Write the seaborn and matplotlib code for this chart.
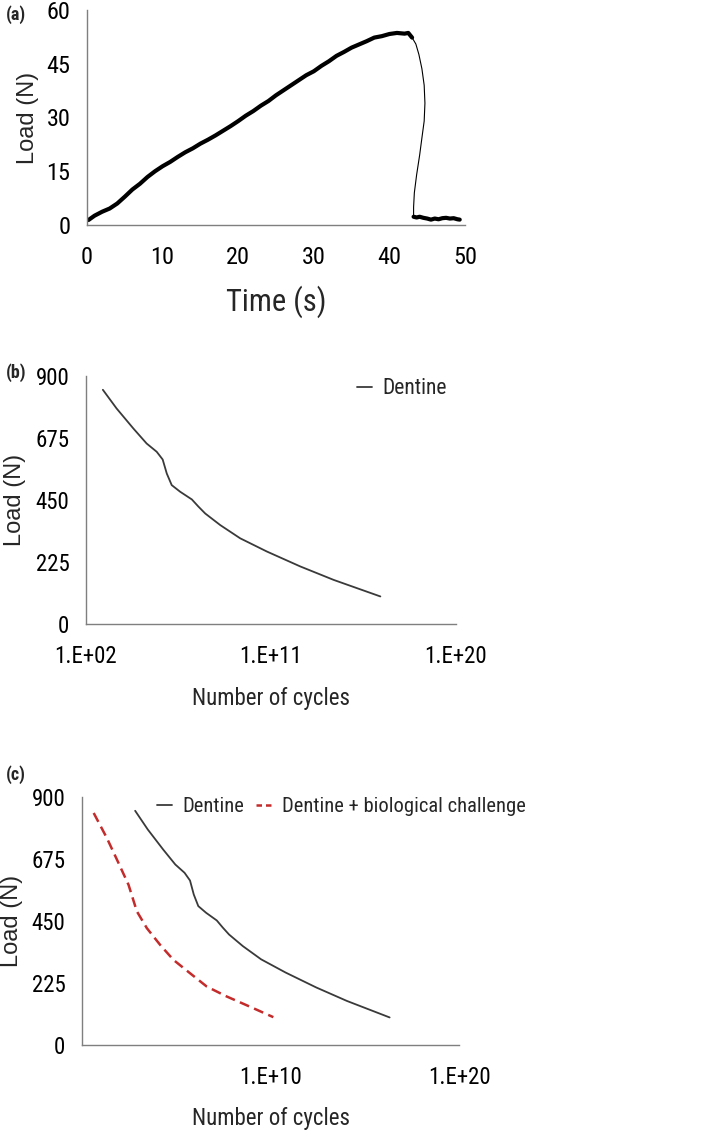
import numpy as np
import pandas as pd
import matplotlib
matplotlib.use("Agg")
import matplotlib.pyplot as plt
import seaborn as sns
from matplotlib.ticker import NullLocator

# (a) ramp-to-failure test
ramp_time = [0.2, 1, 2, 3, 4, 5, 6, 7, 8, 9, 10, 11, 12, 13, 14, 15, 16, 17, 18, 19,
             20, 21, 22, 23, 24, 25, 26, 27, 28, 29, 30, 31, 32, 33, 34, 35, 36, 37,
             38, 39, 40, 41, 42, 42.5, 43]
ramp_load = [1.4, 2.6, 3.7, 4.6, 6.0, 7.9, 9.9, 11.5, 13.4, 15.0, 16.4, 17.6, 19.0, 20.3,
             21.4, 22.7, 23.8, 25.0, 26.3, 27.6, 29.0, 30.5, 31.8, 33.3, 34.6, 36.2, 37.6,
             39.0, 40.4, 41.8, 42.9, 44.4, 45.7, 47.2, 48.3, 49.5, 50.4, 51.3, 52.3, 52.7,
             53.3, 53.6, 53.4, 53.6, 52.3]
drop_time = [43.0, 43.5, 43.9, 44.3, 44.6, 44.7, 44.6, 44.3, 44.0, 43.6, 43.3, 43.2, 43.2]
drop_load = [52.3, 50.5, 47.6, 43.6, 39.0, 34.0, 29.0, 24.3, 19.5, 14.0, 9.0, 5.0, 2.3]
tail_time = [43.2, 43.6, 44.0, 44.5, 45.0, 45.5, 46.0, 46.5, 47.0, 47.5, 48.0, 48.5, 49.0, 49.3]
tail_load = [2.3, 2.1, 2.3, 2.0, 1.8, 1.5, 1.8, 1.6, 1.9, 2.0, 1.8, 1.9, 1.6, 1.5]

# (b)/(c) fatigue curves: log10(number of cycles) vs load (N)
dentine_logn = [2.82, 3.49, 4.31, 4.95, 5.44, 5.73, 5.93, 6.17, 6.58, 7.15, 7.47, 7.80,
                8.53, 9.50, 10.80, 12.42, 14.05, 16.32]
dentine_load = [850, 782, 709, 655, 625, 597, 546, 504, 480, 452, 426, 401,
                359, 311, 263, 209, 160, 100]
challenge_logn = [0.62, 1.32, 1.94, 2.47, 2.91, 3.44, 4.15, 4.85, 5.74, 6.62, 7.68, 8.91, 10.15]
challenge_load = [842, 751, 660, 581, 485, 424, 363, 309, 260, 212, 176, 139, 101]

load_ticks = [0, 225, 450, 675, 900]

sns.set_theme(style="white")
COND = ["Roboto Condensed", "Archivo Narrow", "DejaVu Sans"]
REG = ["Liberation Sans", "DejaVu Sans"]
plt.rcParams["font.family"] = COND

SPINE = "#7f7f7f"
W, H = 709, 1133


def style_axis(ax, size):
    sns.despine(ax=ax)
    for s in ("left", "bottom"):
        ax.spines[s].set_color(SPINE)
        ax.spines[s].set_linewidth(1.0)
    ax.tick_params(axis="both", direction="out", length=4, width=0.8, color=SPINE,
                   labelsize=size, labelcolor="black")
    ax.tick_params(axis="y", pad=8)
    ax.tick_params(axis="x", pad=11)


def place_labels(ax, xlabel, xsize, xc, yc_x, ylabel, yx, yy):
    ax.set_xlabel(xlabel, fontsize=xsize, va="center")
    ax.xaxis.set_label_coords(xc / W, 1 - yc_x / H, transform=fig.transFigure)
    ax.set_ylabel(ylabel, fontsize=17, family=REG, va="center")
    ax.yaxis.set_label_coords(yx / W, 1 - yy / H, transform=fig.transFigure)


fig = plt.figure(figsize=(W / 100, H / 100), dpi=100)

# ---- (a)
ax_a = fig.add_axes([87 / W, 1 - 225 / H, (465 - 87) / W, (225 - 10) / H])
sns.lineplot(x=ramp_time, y=ramp_load, ax=ax_a, color="black", lw=3.0, sort=False, estimator=None)
sns.lineplot(x=drop_time, y=drop_load, ax=ax_a, color="black", lw=0.8, sort=False, estimator=None)
sns.lineplot(x=tail_time, y=tail_load, ax=ax_a, color="black", lw=3.0, sort=False, estimator=None)
ax_a.set_xlim(0, 50)
ax_a.set_ylim(0, 60)
ax_a.set_xticks([0, 10, 20, 30, 40, 50])
ax_a.set_yticks([0, 15, 30, 45, 60])
style_axis(ax_a, 17.5)
place_labels(ax_a, "Time (s)", 22, (87 + 465) / 2, 302, "Load (N)", 28, 118)

# ---- (b)
ax_b = fig.add_axes([86 / W, 1 - 624 / H, (456 - 86) / W, (624 - 376) / H])
ax_b.set_xscale("log")
sns.lineplot(x=np.power(10.0, dentine_logn), y=dentine_load, ax=ax_b, color="#3a3a3a",
             lw=1.3, sort=False, estimator=None, label="Dentine")
ax_b.set_xlim(1e2, 1e20)
ax_b.set_ylim(0, 900)
ax_b.set_xticks([1e2, 1e11, 1e20])
ax_b.set_xticklabels(["1.E+02", "1.E+11", "1.E+20"])
ax_b.xaxis.set_minor_locator(NullLocator())
ax_b.set_yticks(load_ticks)
style_axis(ax_b, 16.5)
place_labels(ax_b, "Number of cycles", 16.5, (86 + 456) / 2, 698, "Load (N)", 15, 500)
ax_b.legend(frameon=False, fontsize=15.5, loc="center left", borderpad=0, borderaxespad=0,
            handlelength=0.7, handletextpad=0.5,
            bbox_to_anchor=(357 / W, 1 - 389 / H), bbox_transform=fig.transFigure)

# ---- (c)
ax_c = fig.add_axes([82 / W, 1 - 1045 / H, (459 - 82) / W, (1045 - 797) / H])
ax_c.set_xscale("log")
sns.lineplot(x=np.power(10.0, dentine_logn), y=dentine_load, ax=ax_c, color="#3a3a3a",
             lw=1.3, sort=False, estimator=None, label="Dentine")
sns.lineplot(x=np.power(10.0, challenge_logn), y=challenge_load, ax=ax_c, color="#c42b2b",
             lw=1.8, sort=False, estimator=None, label="Dentine + biological challenge")
ax_c.lines[-1].set_dashes([4, 2.2])
ax_c.set_xlim(1e0, 1e20)
ax_c.set_ylim(0, 900)
ax_c.set_xticks([1e0, 1e10, 1e20])
ax_c.set_xticklabels(["", "1.E+10", "1.E+20"])
ax_c.xaxis.set_minor_locator(NullLocator())
ax_c.set_yticks(load_ticks)
style_axis(ax_c, 16.5)
place_labels(ax_c, "Number of cycles", 16.5, (82 + 459) / 2, 1118, "Load (N)", 12, 921)
leg = ax_c.legend(frameon=False, fontsize=14.8, loc="center left", ncol=2, borderpad=0,
                  borderaxespad=0, handlelength=0.75, handletextpad=0.5, columnspacing=0.55,
                  bbox_to_anchor=(157 / W, 1 - 807 / H), bbox_transform=fig.transFigure)
leg.get_lines()[1].set_dashes([2.2, 1.6])

# panel letters
for letter, ypix in (("(a)", 15), ("(b)", 373), ("(c)", 775)):
    fig.text(6 / W, 1 - ypix / H, letter, fontsize=13, fontweight="bold", va="center", ha="left")

fig.savefig("out.png", dpi=100)
